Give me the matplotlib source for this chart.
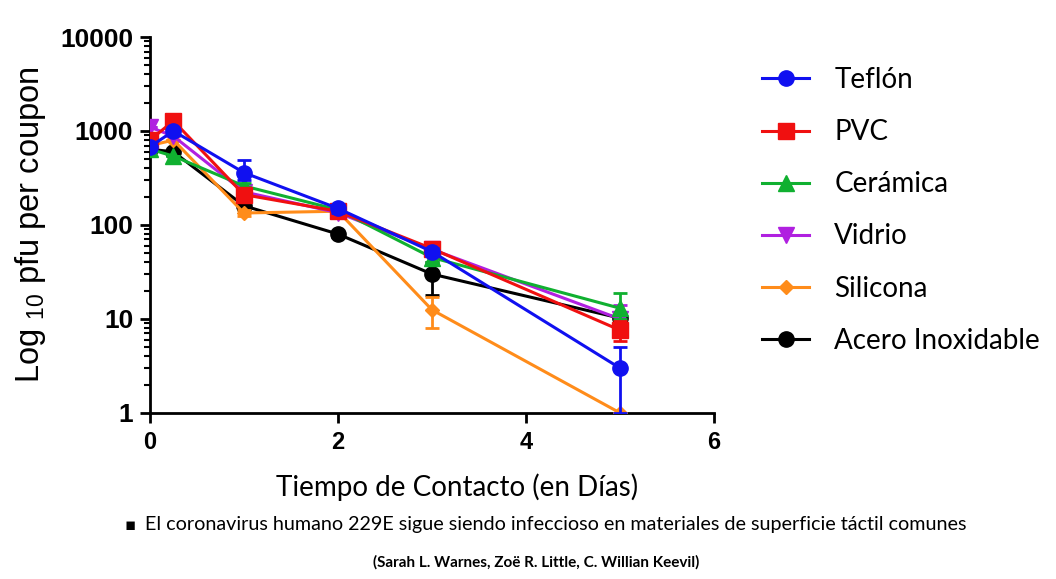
import matplotlib
matplotlib.use("Agg")
import matplotlib.pyplot as plt
from matplotlib.lines import Line2D

# time points (days)
days = [0, 0.25, 1, 2, 3, 5]

series_names = ["Teflón", "PVC", "Cerámica", "Vidrio", "Silicona", "Acero Inoxidable"]

teflon = [680, 1000, 360, 150, 52, 3.0]
pvc = [800, 1280, 210, 140, 56, 7.6]
ceramica = [640, 540, 260, 145, 45, 13]
vidrio = [1100, 880, 225, 135, 55, 10]
silicona = [700, 800, 134, 140, 12.5, 1.0]
acero = [640, 600, 160, 80, 30, 10.2]

# error bars (lower, upper)
teflon_err = [[0, 0, 60, 15, 5, 2.0], [0, 0, 130, 15, 5, 2.0]]
pvc_err = [[0, 0, 30, 10, 5, 1.8], [0, 0, 30, 10, 6, 2.0]]
ceramica_err = [[0, 0, 20, 10, 5, 3], [0, 0, 20, 10, 5, 6]]
vidrio_err = [[0, 0, 20, 10, 5, 2], [0, 0, 20, 10, 5, 4]]
silicona_err = [[0, 0, 10, 10, 4.5, 0], [0, 0, 10, 10, 4.5, 0]]
acero_err = [[0, 0, 10, 5, 12, 1], [0, 0, 10, 5, 10, 1]]

values = [teflon, pvc, ceramica, vidrio, silicona, acero]
errors = [teflon_err, pvc_err, ceramica_err, vidrio_err, silicona_err, acero_err]
colors = ["#1010f0", "#f01010", "#10b030", "#b020e0", "#ff8c1a", "#000000"]
markers = ["o", "s", "^", "v", "D", "o"]
msizes = [11, 11, 11, 11, 7, 11]
zorders = [8, 7, 6, 5, 4, 3]

fig = plt.figure(figsize=(10.56, 5.79), dpi=100)
ax = fig.add_axes([0.142, 0.287, 0.534, 0.649])

handles = []
for name, v, e, c, m, ms, z in zip(series_names, values, errors, colors, markers, msizes, zorders):
    ax.errorbar(days, v, yerr=e, color=c, marker=m, markersize=ms, linewidth=2.2,
                elinewidth=2, capsize=5, capthick=2, zorder=z)
    handles.append(Line2D([], [], color=c, marker=m, markersize=ms, linewidth=2.2))

ax.set_yscale("log")
ax.set_ylim(1, 10000)
ax.set_xlim(0, 6)
ax.set_xticks([0, 2, 4, 6])
ax.set_yticks([1, 10, 100, 1000, 10000])
ax.set_yticklabels(["1", "10", "100", "1000", "10000"])

for side in ["top", "right"]:
    ax.spines[side].set_visible(False)
for side in ["left", "bottom"]:
    ax.spines[side].set_linewidth(2)
ax.tick_params(axis="both", which="major", length=7, width=2, direction="out")
ax.tick_params(axis="y", which="minor", length=4, width=1.5, direction="out")
ax.tick_params(axis="x", which="minor", length=0)
for lab in ax.get_yticklabels():
    lab.set_fontfamily("Liberation Sans")
    lab.set_fontweight("bold")
    lab.set_fontsize(19)
for lab in ax.get_xticklabels():
    lab.set_fontfamily("Liberation Sans")
    lab.set_fontweight("bold")
    lab.set_fontsize(17)
ax.tick_params(axis="x", pad=6)
ax.tick_params(axis="y", pad=5)

ax.set_ylabel("Log $_{\\mathregular{10}}$ pfu per coupon", fontsize=23.5,
              family="Liberation Sans")
ax.yaxis.set_label_coords(-0.18, 0.5)
ax.set_xlabel("Tiempo de Contacto (en Días)", fontsize=20, family="Lato")
ax.xaxis.set_label_coords(0.545, -0.16)

fig.legend(handles=handles, labels=series_names, loc="upper left",
           bbox_to_anchor=(0.7216, 0.884), frameon=False, borderpad=0, borderaxespad=0,
           prop={"family": "Lato", "size": 20}, handlelength=1.7,
           labelspacing=0.94, handletextpad=0.9)

fig.text(0.118, 0.094, "▪", fontsize=12, family=["DejaVu Sans"], va="center")
fig.text(0.137, 0.094, "El coronavirus humano 229E sigue siendo infeccioso en materiales de superficie táctil comunes",
         fontsize=14.2, family="Lato", va="center")
fig.text(0.508, 0.028, "(Sarah L. Warnes, Zoë R. Little, C. Willian Keevil)",
         fontsize=11, family="Lato", fontweight="bold", ha="center", va="center")

fig.savefig("out.png", dpi=100)
